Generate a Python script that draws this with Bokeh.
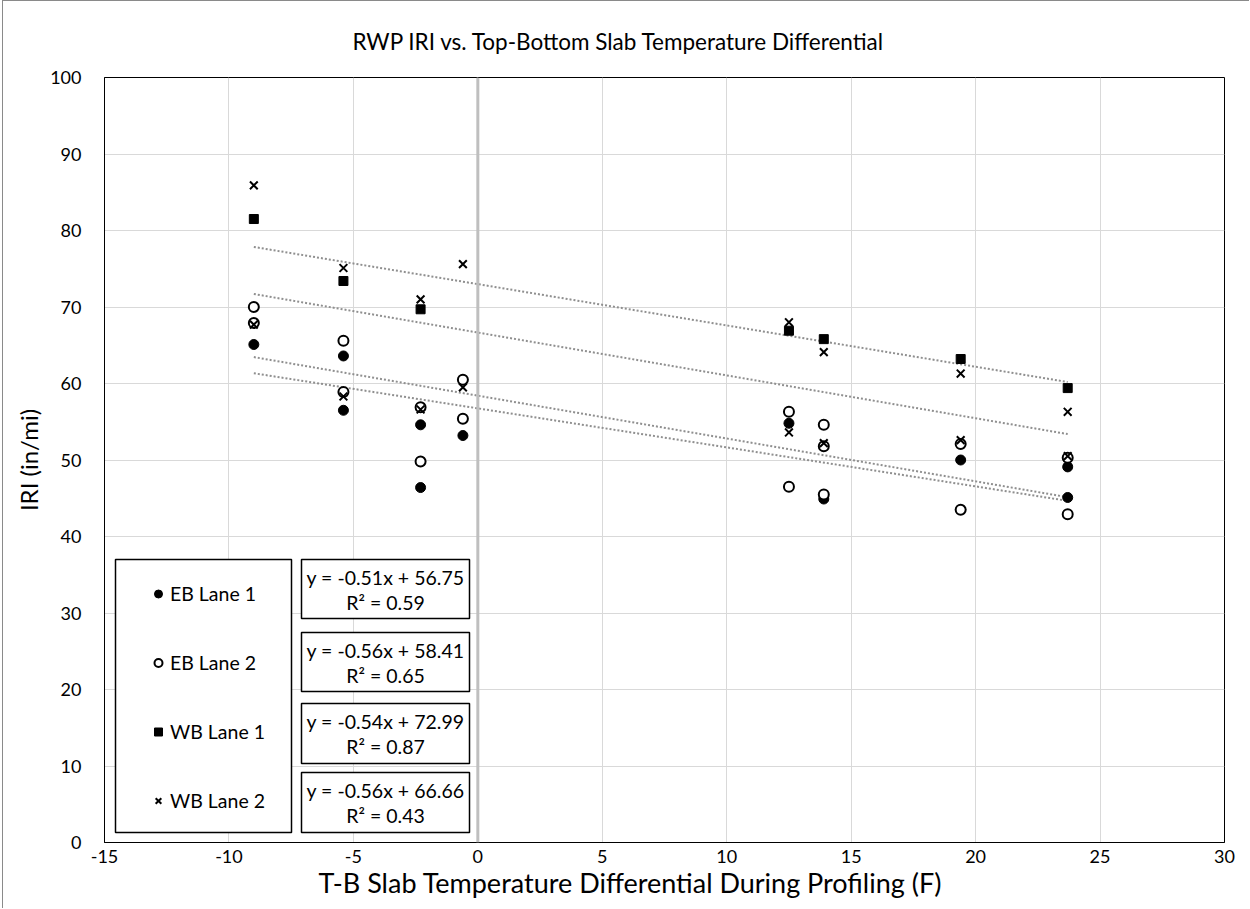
from bokeh.plotting import figure
from bokeh.models import Range1d, Span, Legend, LegendItem, FixedTicker, Title
from bokeh.embed import file_html
from bokeh.resources import INLINE
from bokeh.core.properties import value

# ---------------- data ----------------
title_text = "RWP IRI vs. Top-Bottom Slab Temperature Differential"
x_title = "T-B Slab Temperature Differential During Profiling (F)"
y_title = "IRI (in/mi)"

x_ticks = [-15, -10, -5, 0, 5, 10, 15, 20, 25, 30]
y_ticks = [0, 10, 20, 30, 40, 50, 60, 70, 80, 90, 100]

series_names = ["EB Lane 1", "EB Lane 2", "WB Lane 1", "WB Lane 2"]

eb1_x = [-9.0, -5.4, -5.4, -2.3, -2.3, -0.6, 12.5, 13.9, 19.4, 23.7, 23.7]
eb1_y = [65.1, 63.6, 56.5, 54.6, 46.4, 53.2, 54.8, 44.9, 50.0, 49.1, 45.1]

eb2_x = [-9.0, -9.0, -5.4, -5.4, -2.3, -2.3, -0.6, -0.6, 12.5, 12.5, 13.9, 13.9, 13.9, 19.4, 19.4, 23.7, 23.7]
eb2_y = [70.0, 67.9, 65.6, 58.9, 56.9, 49.8, 60.5, 55.4, 56.3, 46.5, 54.6, 51.8, 45.5, 52.1, 43.5, 50.3, 42.9]

wb1_x = [-9.0, -5.4, -2.3, 12.5, 13.9, 19.4, 23.7]
wb1_y = [81.5, 73.4, 69.7, 66.9, 65.8, 63.2, 59.4]

wb2_x = [-9.0, -9.0, -5.4, -5.4, -2.3, -2.3, -0.6, -0.6, 12.5, 12.5, 13.9, 13.9, 19.4, 19.4, 23.7, 23.7]
wb2_y = [85.9, 67.7, 75.1, 58.3, 71.0, 56.6, 75.6, 59.5, 68.0, 53.6, 64.1, 52.2, 61.3, 52.6, 56.3, 50.5]

slopes = [-0.51, -0.56, -0.54, -0.56]
intercepts = [56.75, 58.41, 72.99, 66.66]
r_squared = [0.59, 0.65, 0.87, 0.43]

# ---------------- figure ----------------
FONT = "Lato"
p = figure(width=1247, height=908, output_backend="svg", toolbar_location=None,
           x_range=Range1d(-15, 30), y_range=Range1d(0, 100),
           min_border_left=101, min_border_right=26, min_border_top=76, min_border_bottom=67,
           styles={"margin-left": "2px", "border-left": "1px solid #8a8a8a",
                   "border-top": "1px solid #8a8a8a"})
p.outline_line_color = "#000000"
p.outline_line_width = 1
p.background_fill_color = "white"
p.border_fill_color = "white"

p.title = Title(text=title_text, align="left", offset=248, standoff=46,
                text_font=FONT, text_font_size="22.5px", text_font_style="normal",
                text_color="#000000")

for ax, ticks in ((p.xaxis, x_ticks), (p.yaxis, y_ticks)):
    ax.ticker = FixedTicker(ticks=ticks)
    ax.major_label_overrides = {t: str(t) for t in ticks}
    ax.major_tick_line_color = None
    ax.minor_tick_line_color = None
    ax.major_label_text_font = FONT
    ax.major_label_text_font_size = "18px"
    ax.major_label_text_color = "#000000"
    ax.axis_label_text_font = FONT
    ax.axis_label_text_font_style = "normal"
    ax.axis_label_text_color = "#000000"

p.yaxis.axis_label = y_title
p.yaxis.axis_label_text_font_size = "24px"
p.xaxis.axis_line_color = "#000000"
p.yaxis.axis_line_color = "#000000"
p.xaxis.major_label_standoff = 1
p.yaxis.major_label_standoff = 17
p.yaxis.axis_label_standoff = 4

# x-axis title, placed under the tick labels
p.add_layout(Title(text=x_title, align="left", offset=214, standoff=0, vertical_align="top",
                   text_font=FONT, text_font_size="27px", text_font_style="normal",
                   text_color="#000000"), "below")

p.xgrid.ticker = FixedTicker(ticks=x_ticks)
p.ygrid.ticker = FixedTicker(ticks=y_ticks)
p.xgrid.grid_line_color = "#d9d9d9"
p.ygrid.grid_line_color = "#d9d9d9"

# vertical axis at x = 0
p.add_layout(Span(location=0, dimension="height", line_color="#bfbfbf", line_width=3))

# ---------------- series ----------------
xs_all = [eb1_x, eb2_x, wb1_x, wb2_x]

# trendlines
for xs, m, b in zip(xs_all, slopes, intercepts):
    x0, x1 = min(xs), max(xs)
    p.line([x0, x1], [m * x0 + b, m * x1 + b], line_color="#8f8f8f",
           line_width=2, line_dash="2 2")

r_eb1 = p.scatter(eb1_x, eb1_y, marker="circle", size=10, fill_color="black", line_color="black")
r_eb2 = p.scatter(eb2_x, eb2_y, marker="circle", size=10, fill_color="white", line_color="black", line_width=2)
r_wb1 = p.scatter(wb1_x, wb1_y, marker="square", size=9, fill_color="black", line_color="black")
r_wb2 = p.scatter(wb2_x, wb2_y, marker="x", size=11, line_color="black", line_width=2)
renderers = [r_eb1, r_eb2, r_wb1, r_wb2]

# ---------------- legend box + equation boxes ----------------
def dx(px):
    return -15 + (px - 104) * 45.0 / 1120.0

def dy(py):
    return (842 - py) * 100.0 / 765.0

p.quad(left=[dx(115)], right=[dx(291)], top=[dy(559)], bottom=[dy(832)],
       fill_color="white", line_color="black", line_width=1.5)

box_tops = [559, 632, 703, 772]
box_bots = [618, 691, 763, 832]
p.quad(left=[dx(301)] * 4, right=[dx(469)] * 4,
       top=[dy(t) for t in box_tops], bottom=[dy(b) for b in box_bots],
       fill_color="white", line_color="black", line_width=1.5)

eq_lines1 = [f"y = {m:.2f}x + {b:.2f}" for m, b in zip(slopes, intercepts)]
eq_lines2 = [f"R² = {r:.2f}" for r in r_squared]
cx = (dx(301) + dx(469)) / 2
centers = [(t + b) / 2 for t, b in zip(box_tops, box_bots)]
p.text(x=[cx] * 4, y=[dy(c - 12) for c in centers], text=eq_lines1,
       text_font=value(FONT), text_font_size="19.5px", text_align="center",
       text_baseline="middle", text_color="black")
p.text(x=[cx] * 4, y=[dy(c + 13) for c in centers], text=eq_lines2,
       text_font=value(FONT), text_font_size="19.5px", text_align="center",
       text_baseline="middle", text_color="black")

legend = Legend(items=[LegendItem(label=n, renderers=[r]) for n, r in zip(series_names, renderers)],
                location=(44, 7), padding=0, spacing=0, margin=0,
                label_height=69, glyph_height=69, glyph_width=20, label_standoff=2,
                border_line_alpha=0, background_fill_alpha=0,
                label_text_font=FONT, label_text_font_size="19.5px",
                label_text_color="#000000")
p.add_layout(legend)

open("out.html", "w").write(file_html(p, INLINE))
